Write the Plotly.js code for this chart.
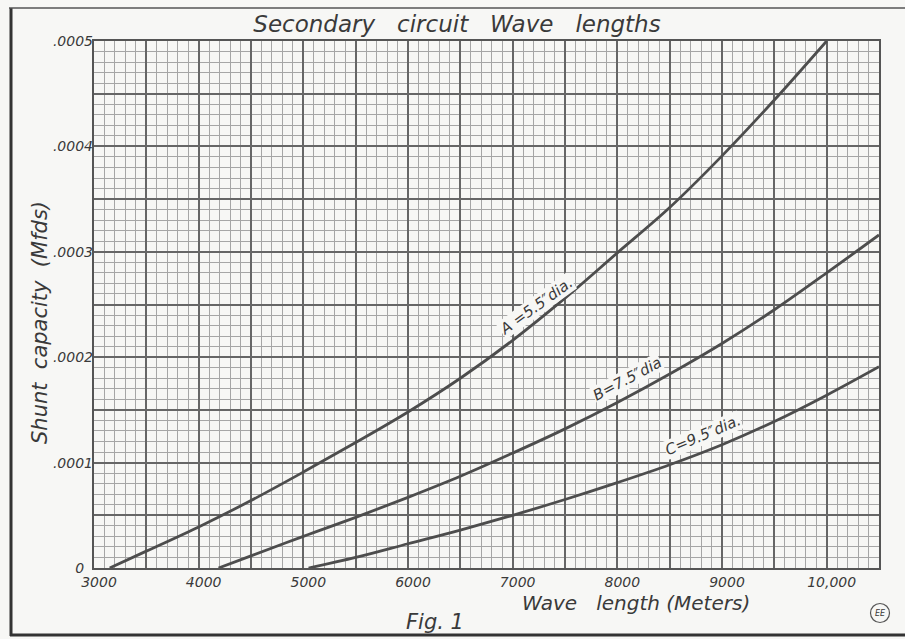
<!DOCTYPE html>
<html>
<head>
<meta charset="utf-8">
<script src="https://cdn.plot.ly/plotly-3.0.1.min.js"></script>
<style>html,body{margin:0;padding:0;background:#f7f7f5;}#chart{width:905px;height:639px;}</style>
</head>
<body>
<div id="chart"></div>
<script>
// ---- data (wave length in meters, capacity in mfd) ----
const waveA = [3150, 3500, 4000, 4500, 5000, 5500, 6000, 6500, 7000, 7500, 8000, 8500, 9000, 9500, 10000];
const capA  = [0, 0.000016, 0.000039, 0.000064, 0.000091, 0.000119, 0.000148, 0.000180, 0.000216, 0.000256, 0.000299, 0.000342, 0.000391, 0.000444, 0.000500];

const waveB = [4190, 4500, 5000, 5500, 6000, 6500, 7000, 7500, 8000, 8500, 9000, 9500, 10000, 10500];
const capB  = [0, 0.0000115, 0.000030, 0.000048, 0.000067, 0.000087, 0.000109, 0.000132, 0.000157, 0.000184, 0.000213, 0.000245, 0.000280, 0.000316];

const waveC = [5050, 5500, 6000, 6500, 7000, 7500, 8000, 8500, 9000, 9500, 10000, 10500];
const capC  = [0, 0.000010, 0.000023, 0.000036, 0.000050, 0.000065, 0.000081, 0.000098, 0.000117, 0.000139, 0.000164, 0.000191];

const curveNames = ["A =5.5\u2033dia.", "B=7.5\u2033dia", "C=9.5\u2033dia."];

// tick labels (heavy grid every 500 m / .00005 mfd, labels every other line)
const xTickVals   = [3000, 3500, 4000, 4500, 5000, 5500, 6000, 6500, 7000, 7500, 8000, 8500, 9000, 9500, 10000, 10500];
const xTickLabels = ["3000", "", "4000", "", "5000", "", "6000", "", "7000", "", "8000", "", "9000", "", "10,000", ""];
const yTickVals   = [0, 0.00005, 0.0001, 0.00015, 0.0002, 0.00025, 0.0003, 0.00035, 0.0004, 0.00045, 0.0005];
const yTickLabels = ["0\u00a0\u00a0", "", ".0001", "", ".0002", "", ".0003", "", ".0004", "", ".0005"];

const titleText = "Secondary\u00a0\u00a0 circuit\u00a0\u00a0 Wave\u00a0\u00a0 lengths";
const xTitle = "Wave\u00a0\u00a0 length (Meters)";
const yTitle = "Shunt\u00a0 capacity\u00a0 (Mfds)";
const figText = "Fig. 1";

// ---- layout helpers ----
const W = 905, H = 639;
const L = 94, R = 879, T = 41, B = 568;
const px = v => (v - L) / (R - L);
const py = v => (B - v) / (B - T);
const xRange = [3000, 10500];
const yRange = [0, 0.0005];

// fine graph-paper rulings (5 per heavy square), skipping the heavy lines
const fineX = [], fineY = [];
for (let i = 0; i <= 75; i++) if (i % 5 !== 0) fineX.push(3000 + i * 100);
for (let i = 0; i <= 50; i++) if (i % 5 !== 0) fineY.push(i * 0.00001);

const ink = "#3a3a3a";
const lineCol = "#4d4d4d";
const bg = "#f7f7f5";
const hand = "DejaVu Sans, Liberation Sans, sans-serif";
const tickFont = {family: hand, size: 14, style: "italic", color: ink};

const series = [[waveA, capA], [waveB, capB], [waveC, capC]];
const traces = series.map((s, i) => ({
  x: s[0], y: s[1], type: "scatter", mode: "lines", name: curveNames[i],
  xaxis: "x", yaxis: "y",
  line: {color: lineCol, width: 2.8, shape: "spline", smoothing: 1},
  hoverinfo: "skip", showlegend: false
}));
// empty trace to activate the overlay subplot carrying the heavy grid & labels
traces.push({x: [], y: [], type: "scatter", mode: "lines", xaxis: "x2", yaxis: "y2", showlegend: false, hoverinfo: "skip"});

// label positions along each curve
const labelPos = [[7225, 0.000249, -36], [8095, 0.000179, -28], [8822, 0.000126, -23]];

const annotations = labelPos.map((p, i) => ({
  x: p[0], y: p[1], xref: "x", yref: "y", text: curveNames[i], showarrow: false,
  xanchor: "center", yanchor: "middle",
  textangle: p[2], bgcolor: bg, borderpad: 0,
  font: {family: hand, size: 15, style: "italic", color: ink}
}));

function paperText(x, y, text, size, angle) {
  return {x: px(x), y: py(y), xref: "paper", yref: "paper", text: text, showarrow: false,
          xanchor: "center", yanchor: "middle", textangle: angle || 0,
          font: {family: hand, size: size, style: "italic", color: ink}};
}

annotations.push(
  paperText(40, 323, yTitle, 21, -90),
  paperText(636, 603, xTitle, 20),
  paperText(435, 622, figText, 21),
  paperText(880, 613, "EE", 8)
);

const shapes = [
  // outer frame
  {type: "line", xref: "paper", yref: "paper", x0: px(11), x1: px(11), y0: py(8), y1: py(636), line: {color: "#333", width: 3}},
  {type: "line", xref: "paper", yref: "paper", x0: px(9), x1: px(905), y0: py(8), y1: py(8), line: {color: "#555", width: 1.5}},
  {type: "line", xref: "paper", yref: "paper", x0: px(10), x1: px(905), y0: py(635), y1: py(635), line: {color: "#333", width: 3}},
  // EE stamp circle
  {type: "circle", xref: "paper", yref: "paper", x0: px(870.5), x1: px(889.5), y0: py(622.5), y1: py(603.5), line: {color: "#555", width: 1.2}}
];

const minorGrid = "#a6a6a6";
const majorGrid = "#666666";

const layout = {
  width: W, height: H,
  paper_bgcolor: bg, plot_bgcolor: bg,
  margin: {l: L, r: W - R, t: T, b: H - B, pad: 0},
  title: {text: titleText, x: 457 / W, xref: "container", y: 1 - 24 / H, yref: "container",
          xanchor: "center", yanchor: "middle",
          font: {family: hand, size: 23, style: "italic", color: ink}},
  // fine rulings
  xaxis: {
    range: xRange, tickmode: "array", tickvals: fineX, showticklabels: false,
    showgrid: true, gridcolor: minorGrid, gridwidth: 1,
    ticks: "", zeroline: false, showline: true, linecolor: "#555", linewidth: 2, mirror: true, fixedrange: true
  },
  yaxis: {
    range: yRange, tickmode: "array", tickvals: fineY, showticklabels: false,
    showgrid: true, gridcolor: minorGrid, gridwidth: 1,
    ticks: "", zeroline: false, showline: true, linecolor: "#555", linewidth: 2, mirror: true, fixedrange: true
  },
  // heavy rulings + labels
  xaxis2: {
    overlaying: "x", anchor: "y2", side: "bottom", range: xRange,
    tickmode: "array", tickvals: xTickVals, ticktext: xTickLabels,
    showgrid: true, gridcolor: majorGrid, gridwidth: 2,
    ticks: "", zeroline: false, showline: false, tickfont: tickFont,
    ticklabelshift: 5, ticklabelstandoff: 4, fixedrange: true
  },
  yaxis2: {
    overlaying: "y", anchor: "x2", side: "left", range: yRange,
    tickmode: "array", tickvals: yTickVals, ticktext: yTickLabels,
    showgrid: true, gridcolor: majorGrid, gridwidth: 2,
    ticks: "", zeroline: false, showline: false, tickfont: tickFont, fixedrange: true
  },
  annotations: annotations,
  shapes: shapes,
  showlegend: false
};

Plotly.newPlot("chart", traces, layout, {staticPlot: true, displayModeBar: false});
</script>
</body>
</html>
